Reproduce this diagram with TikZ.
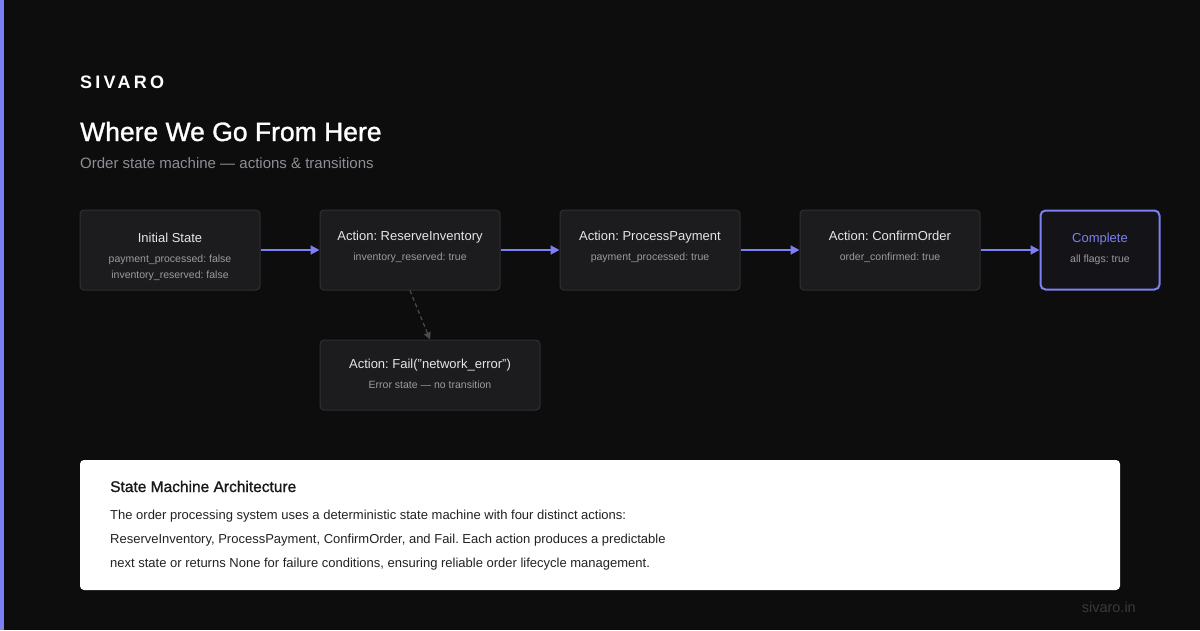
\documentclass[tikz,border=0pt]{standalone}
\usepackage{fontspec}
\setmainfont{Liberation Sans}
\newfontfamily\brandfont[LetterSpace=18]{Liberation Sans}
\newfontfamily\headfont[FakeBold=1.2]{Liberation Sans}
\usetikzlibrary{arrows.meta}
\frenchspacing
\definecolor{bgdark}{HTML}{0D0D0D}
\definecolor{accent}{HTML}{7C80F2}
\definecolor{boxfill}{HTML}{1C1C1F}
\definecolor{boxline}{HTML}{2F2F34}
\definecolor{donefill}{HTML}{141418}
\definecolor{subgray}{HTML}{8E8E96}
\definecolor{smallgray}{HTML}{9A9AA2}
\definecolor{titlewhite}{HTML}{E6E6E8}
\definecolor{dashgray}{HTML}{4A4A50}
\definecolor{footgray}{HTML}{3A3A3E}
\definecolor{cardtext}{HTML}{222222}
\tikzstyle{statebox} = [draw=boxline, fill=boxfill, line width=1pt,
    rectangle, rounded corners=4pt, minimum height=80pt, inner sep=0pt]
\tikzstyle{donebox} = [draw=accent, fill=donefill, line width=2pt,
    rectangle, rounded corners=5pt, minimum width=119pt, minimum height=79pt, inner sep=0pt]
\tikzstyle{statetitle} = [text=titlewhite, font=\fontsize{13}{15}\selectfont, anchor=base, inner sep=0pt]
\tikzstyle{stateflag} = [text=smallgray, font=\fontsize{10.5}{12}\selectfont, anchor=base, inner sep=0pt]
\tikzstyle{flowarrow} = [draw=accent, line width=2pt, -{Triangle[length=9pt, width=9pt]}]
\tikzstyle{failarrow} = [draw=dashgray, line width=1.2pt, dash pattern=on 4pt off 3pt,
    -{Triangle[length=7pt, width=7pt]}]
\tikzstyle{cardline} = [text=cardtext, font=\fontsize{13}{15}\selectfont, anchor=base west, inner sep=0pt]

\begin{document}
\begin{tikzpicture}[x=1pt, y=-1pt]
    % background and accent bar
    \fill[bgdark] (0,0) rectangle (1200,630);
    \fill[accent] (0,0) rectangle (4,630);
    \useasboundingbox (0,0) rectangle (1200,630);

    % header
    \node[text=white, font=\brandfont\fontsize{18}{20}\selectfont\bfseries, anchor=base west, inner sep=0pt] (brand) at (80,88) {SIVARO};
    \node[text=white, font=\headfont\fontsize{26.5}{30}\selectfont, anchor=base west, inner sep=0pt] (title) at (80,141) {Where We Go From Here};
    \node[text=subgray, font=\fontsize{15}{17}\selectfont, anchor=base west, inner sep=0pt] (subtitle) at (80,168) {Order state machine --- actions \& transitions};

    % states
    \node[statebox, minimum width=180pt] (init) at (170,250) {};
    \node[statetitle] (init-t) at (170,242) {Initial State};
    \node[stateflag] (init-a) at (170,262) {payment\_processed: false};
    \node[stateflag] (init-b) at (170,278) {inventory\_reserved: false};

    \node[statebox, minimum width=180pt] (reserve) at (410,250) {};
    \node[statetitle] (reserve-t) at (410,240) {Action: ReserveInventory};
    \node[stateflag] (reserve-a) at (410,260) {inventory\_reserved: true};

    \node[statebox, minimum width=180pt] (payment) at (650,250) {};
    \node[statetitle] (payment-t) at (650,240) {Action: ProcessPayment};
    \node[stateflag] (payment-a) at (650,260) {payment\_processed: true};

    \node[statebox, minimum width=180pt] (confirm) at (890,250) {};
    \node[statetitle] (confirm-t) at (890,240) {Action: ConfirmOrder};
    \node[stateflag] (confirm-a) at (890,260) {order\_confirmed: true};

    \node[donebox] (complete) at (1100,250) {};
    \node[statetitle, text=accent] (complete-t) at (1100,242) {Complete};
    \node[stateflag] (complete-a) at (1100,262) {all flags: true};

    \node[statebox, minimum width=220pt, minimum height=70pt] (fail) at (430,375) {};
    \node[statetitle] (fail-t) at (430,368) {Action: Fail("network\_error")};
    \node[stateflag] (fail-a) at (430,388) {Error state --- no transition};

    % transitions
    \draw[flowarrow] (init.east) -- (reserve.west);
    \draw[flowarrow] (reserve.east) -- (payment.west);
    \draw[flowarrow] (payment.east) -- (confirm.west);
    \draw[flowarrow] (confirm.east) -- (complete.west);
    \draw[failarrow] (reserve.south) -- (fail.north);

    % summary card
    \node[fill=white, rectangle, rounded corners=4pt, minimum width=1040pt, minimum height=130pt, inner sep=0pt] (card) at (600,525) {};
    \node[text=black!90, font=\headfont\fontsize{15.5}{17}\selectfont, anchor=base west, inner sep=0pt] (card-t) at (110,492) {State Machine Architecture};
    \node[cardline] (card-a) at (110,519) {The order processing system uses a deterministic state machine with four distinct actions:};
    \node[cardline] (card-b) at (110,543) {ReserveInventory, ProcessPayment, ConfirmOrder, and Fail. Each action produces a predictable};
    \node[cardline] (card-c) at (110,567) {next state or returns None for failure conditions, ensuring reliable order lifecycle management.};

    \node[text=footgray, font=\fontsize{14.5}{16}\selectfont, anchor=base east, inner sep=0pt] (footer) at (1136,612) {sivaro.in};
\end{tikzpicture}
\end{document}
